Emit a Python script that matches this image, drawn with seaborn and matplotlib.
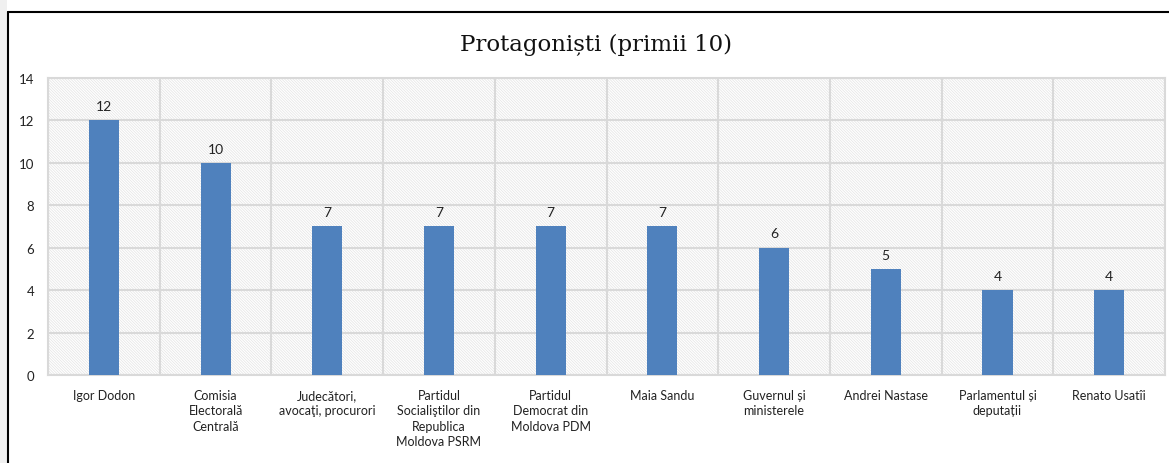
import matplotlib
matplotlib.use('Agg')
import matplotlib.pyplot as plt
import seaborn as sns
from matplotlib.patches import Rectangle
from matplotlib.lines import Line2D

# date
nume = ['Igor Dodon', 'Comisia\nElectorală\nCentrală', 'Judecători,\navocaţi, procurori',
        'Partidul\nSocialiştilor din\nRepublica\nMoldova PSRM', 'Partidul\nDemocrat din\nMoldova PDM',
        'Maia Sandu', 'Guvernul și\nministerele', 'Andrei Nastase', 'Parlamentul și\ndeputații',
        'Renato Usatîi']
valori = [12, 10, 7, 7, 7, 7, 6, 5, 4, 4]
y_ticks = [0, 2, 4, 6, 8, 10, 12, 14]

sns.set_style('white')
plt.rcParams['font.family'] = ['Lato', 'DejaVu Sans']
plt.rcParams['hatch.linewidth'] = 0.5
plt.rcParams['hatch.color'] = '#e3e3e3'

fig = plt.figure(figsize=(11.69, 4.64), dpi=100)
ax = fig.add_axes([0.0411, 0.1897, 0.9555, 0.64])

# fundal hasurat
ax.add_patch(Rectangle((0, 0), 1, 1, transform=ax.transAxes, facecolor='white',
                       edgecolor='#e3e3e3', hatch='\\' * 12, linewidth=0, zorder=0))

sns.barplot(x=list(range(len(nume))), y=valori, color='#4F81BD', saturation=1,
            width=0.27, ax=ax, zorder=3, linewidth=0, edgecolor='none')
ax.bar_label(ax.containers[0], padding=6, fontsize=10, color='#222222')

ax.set_xlim(-0.5, len(nume) - 0.5)
ax.set_ylim(0, 14)
ax.set_yticks(y_ticks)
ax.set_yticklabels([str(t) for t in y_ticks], fontsize=9.5, color='#222222')
ax.set_xticks(range(len(nume)))
ax.set_xticklabels(nume, fontsize=9, color='#222222', linespacing=1.35, va='top')
ax.tick_params(length=0)
ax.tick_params(axis='x', pad=10)
ax.tick_params(axis='y', pad=10)
ax.set_xlabel('')
ax.set_ylabel('')

for t in y_ticks:
    ax.axhline(t, color='#d9d9d9', linewidth=1.5, zorder=1)
for i in range(len(nume) + 1):
    ax.axvline(i - 0.5, color='#d9d9d9', linewidth=1.5, zorder=1)
for s in ax.spines.values():
    s.set_color('#d9d9d9')
    s.set_linewidth(1.5)

fig.text(0.51, 0.903, 'Protagoniști (primii 10)', ha='center', va='center',
         fontsize=16.5, family=['DejaVu Serif'], color='#111111')

# chenar
fig.add_artist(Rectangle((0, 0), 7 / 1169, 1, transform=fig.transFigure,
                         facecolor='#f0f0f0', edgecolor='none'))
fig.add_artist(Line2D([8 / 1169, 8 / 1169], [0, 1 - 13 / 464], transform=fig.transFigure,
                      color='black', linewidth=1.5))
fig.add_artist(Line2D([8 / 1169, 1], [1 - 13 / 464, 1 - 13 / 464], transform=fig.transFigure,
                      color='black', linewidth=1.5))

fig.savefig('out.png', dpi=100)
